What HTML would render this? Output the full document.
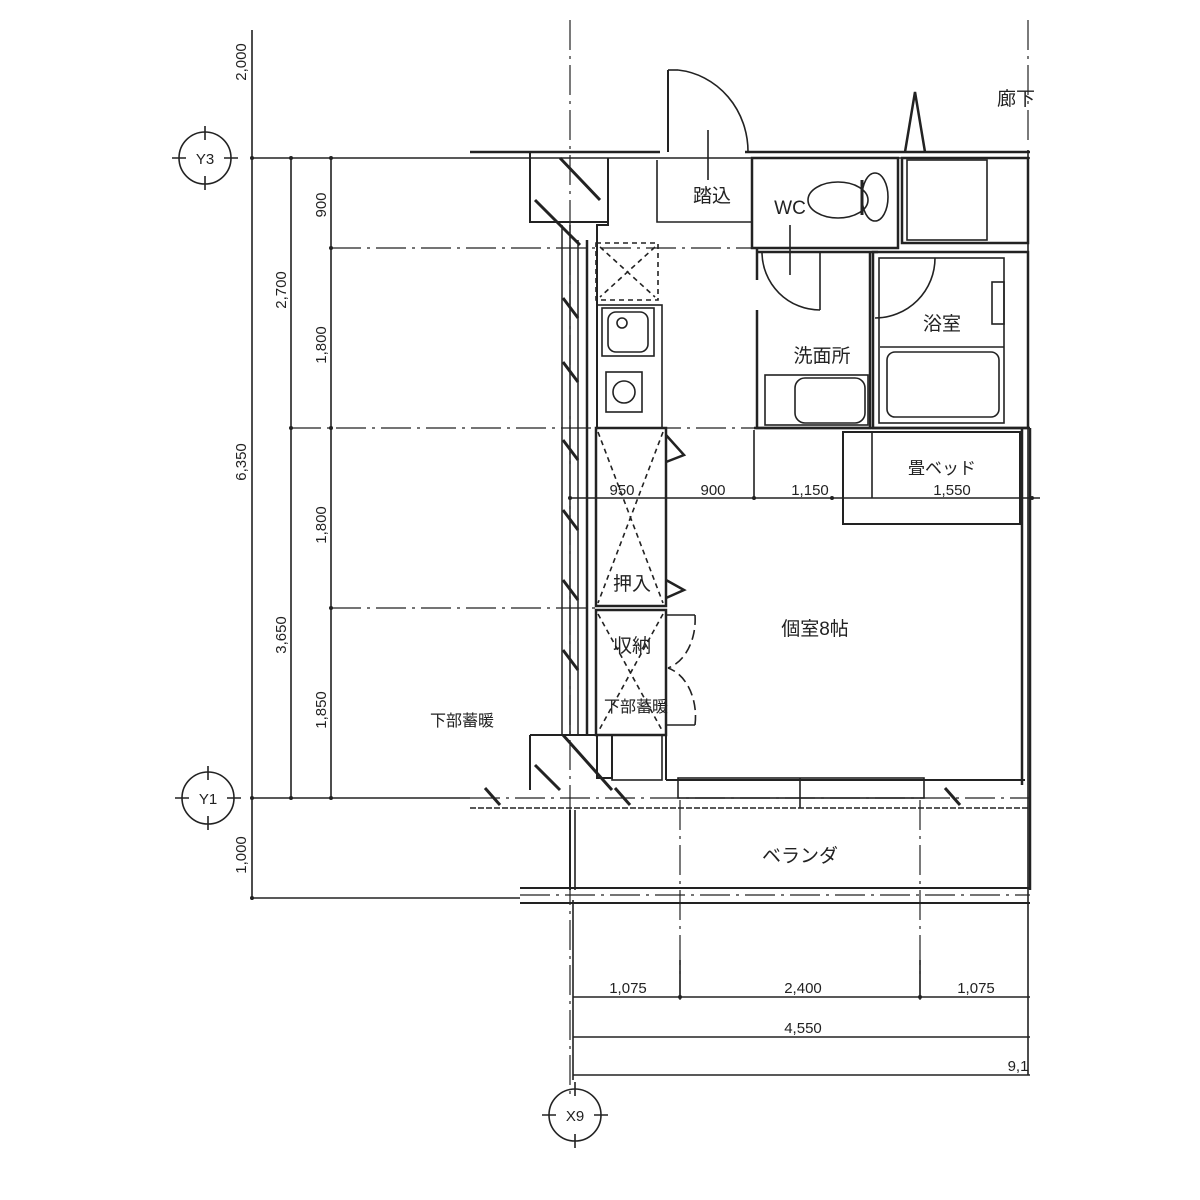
<!DOCTYPE html>
<html><head><meta charset="utf-8"><style>
html,body{margin:0;padding:0;background:#fff;}
svg{display:block;}
text{font-family:"Liberation Sans","Noto Sans CJK JP",sans-serif;fill:#222;}
.d{font-size:15px;}
.j{font-size:19px;}
</style></head><body>
<svg width="1200" height="1200" viewBox="0 0 1200 1200" xmlns="http://www.w3.org/2000/svg">
<g stroke="#222" fill="none" stroke-width="1.6">
<g stroke-dasharray="30,6,3,6" stroke-width="1.2">
<line x1="570" y1="20" x2="570" y2="1100"/>
<line x1="1028" y1="20" x2="1028" y2="140"/>
<line x1="331" y1="248" x2="760" y2="248"/>
<line x1="291" y1="428" x2="760" y2="428"/>
<line x1="331" y1="608" x2="600" y2="608"/>
<line x1="680" y1="800" x2="680" y2="1000"/>
<line x1="920" y1="800" x2="920" y2="1000"/>
<line x1="520" y1="895" x2="1030" y2="895"/>
<line x1="470" y1="798" x2="1030" y2="798"/>
</g>
<line x1="252" y1="30" x2="252" y2="900"/>
<line x1="291" y1="158" x2="291" y2="798"/>
<line x1="331" y1="158" x2="331" y2="798"/>
<line x1="252" y1="158" x2="470" y2="158"/>
<line x1="252" y1="798" x2="470" y2="798"/>
<line x1="252" y1="898" x2="520" y2="898"/>
<!-- grid circles -->
<g>
<circle cx="205" cy="158" r="26"/>
<path d="M172 158H186 M224 158H238 M205 126V140 M205 176V190"/>
<circle cx="208" cy="798" r="26"/>
<path d="M175 798H189 M227 798H241 M208 766V780 M208 816V830"/>
<circle cx="575" cy="1115" r="26"/>
<path d="M542 1115H556 M594 1115H608 M575 1082V1096 M575 1134V1148"/>
</g>
<line x1="573" y1="997" x2="1030" y2="997"/>
<line x1="573" y1="1037" x2="1030" y2="1037"/>
<line x1="573" y1="1075" x2="1030" y2="1075"/>
<line x1="573" y1="900" x2="573" y2="1080"/>
<line x1="680" y1="960" x2="680" y2="997"/>
<line x1="920" y1="960" x2="920" y2="997"/>
<line x1="1028" y1="150" x2="1028" y2="1075"/>
<line x1="570" y1="498" x2="1040" y2="498"/>
<line x1="754" y1="430" x2="754" y2="498"/>
<line x1="470" y1="152" x2="660" y2="152" stroke-width="2.5"/>
<line x1="745" y1="152" x2="1030" y2="152" stroke-width="2.5"/>
<line x1="470" y1="158" x2="1030" y2="158"/>
<line x1="668" y1="70" x2="668" y2="152" stroke-width="2"/>
<line x1="668" y1="70" x2="678" y2="70"/>
<path d="M678 70 A78 82 0 0 1 748 152"/>
<line x1="708" y1="130" x2="708" y2="180"/>
<path d="M905 152 L915 92 L925 152" stroke-width="2.5"/>
<path d="M657 160 V222 H752"/>
<rect x="752" y="158" width="146" height="90" stroke-width="2.5"/>
<ellipse cx="838" cy="200" rx="30" ry="18"/>
<ellipse cx="875" cy="197" rx="13" ry="24"/>
<line x1="862" y1="180" x2="862" y2="215" stroke-width="3"/>
<line x1="790" y1="225" x2="790" y2="275"/>
<rect x="902" y="158" width="126" height="85" stroke-width="2.5"/>
<rect x="907" y="160" width="80" height="80"/>
<path d="M530 152 V222 H608 V158" stroke-width="2"/>
<line x1="560" y1="158" x2="600" y2="200" stroke-width="3"/>
<line x1="535" y1="200" x2="580" y2="245" stroke-width="3"/>
<path d="M608 158 V225 H597 V428" stroke-width="2"/>
<line x1="562" y1="225" x2="562" y2="735" stroke-width="1.5"/>
<line x1="570" y1="225" x2="570" y2="735" stroke-width="1.5"/>
<line x1="578" y1="240" x2="578" y2="735" stroke-width="1.5"/>
<line x1="587" y1="240" x2="587" y2="735" stroke-width="2.5"/>
<g stroke-width="3">
<line x1="563" y1="298" x2="578" y2="318"/>
<line x1="563" y1="362" x2="578" y2="382"/>
<line x1="563" y1="440" x2="578" y2="460"/>
<line x1="563" y1="510" x2="578" y2="530"/>
<line x1="563" y1="580" x2="578" y2="600"/>
<line x1="563" y1="650" x2="578" y2="670"/>
</g>
<rect x="596" y="243" width="62" height="57" stroke-dasharray="5,4"/>
<line x1="600" y1="247" x2="655" y2="297" stroke-dasharray="5,4"/>
<line x1="655" y1="247" x2="600" y2="297" stroke-dasharray="5,4"/>
<rect x="597" y="305" width="65" height="123"/>
<rect x="602" y="308" width="52" height="48"/>
<rect x="608" y="312" width="40" height="40" rx="8"/>
<circle cx="622" cy="323" r="5"/>
<rect x="606" y="372" width="36" height="40"/>
<circle cx="624" cy="392" r="11"/>
<rect x="596" y="428" width="70" height="178" stroke-width="2.5"/>
<rect x="596" y="610" width="70" height="125" stroke-width="2.5"/>
<g stroke-dasharray="5,4">
<line x1="598" y1="432" x2="663" y2="603"/>
<line x1="663" y1="432" x2="598" y2="603"/>
<line x1="598" y1="614" x2="663" y2="732"/>
<line x1="663" y1="614" x2="598" y2="732"/>
</g>
<path d="M666 435 L684 455 L666 462" stroke-width="2.5"/>
<path d="M666 580 L684 590 L666 598" stroke-width="2.5"/>
<line x1="666" y1="615" x2="695" y2="615"/>
<path d="M695 615 A36 50 0 0 1 668 668" stroke-dasharray="10,5"/>
<line x1="666" y1="725" x2="695" y2="725"/>
<path d="M695 725 A36 50 0 0 0 668 668" stroke-dasharray="10,5"/>
<path d="M530 735 H597 V778 H612 V735 M612 735 H666 V780" stroke-width="2"/>
<rect x="612" y="735" width="50" height="45"/>
<line x1="530" y1="735" x2="530" y2="790" stroke-width="2"/>
<line x1="535" y1="765" x2="560" y2="790" stroke-width="3"/>
<line x1="563" y1="735" x2="612" y2="790" stroke-width="3"/>
<line x1="485" y1="788" x2="500" y2="805" stroke-width="3"/>
<line x1="615" y1="788" x2="630" y2="805" stroke-width="3"/>
<line x1="945" y1="788" x2="960" y2="805" stroke-width="3"/>
<path d="M757 248 V280 M757 310 V428 H870 V252" stroke-width="2.5"/>
<line x1="757" y1="252" x2="878" y2="252" stroke-width="2.5"/>
<line x1="820" y1="252" x2="820" y2="310"/>
<path d="M762 252 A58 58 0 0 0 820 310"/>
<rect x="765" y="375" width="103" height="50"/>
<rect x="795" y="378" width="70" height="45" rx="10"/>
<rect x="873" y="252" width="155" height="176" stroke-width="2.5"/>
<rect x="879" y="258" width="125" height="165"/>
<path d="M875 318 A60 60 0 0 0 935 258"/>
<rect x="992" y="282" width="12" height="42"/>
<line x1="880" y1="347" x2="1004" y2="347"/>
<rect x="887" y="352" width="112" height="65" rx="8"/>
<rect x="843" y="432" width="177" height="92" stroke-width="2"/>
<line x1="872" y1="432" x2="872" y2="498"/>
<line x1="1022" y1="428" x2="1022" y2="785" stroke-width="2.5"/>
<line x1="1030" y1="428" x2="1030" y2="890" stroke-width="2.5"/>
<line x1="754" y1="428" x2="1030" y2="428" stroke-width="2.5"/>
<line x1="666" y1="780" x2="1025" y2="780" stroke-width="2"/>
<rect x="678" y="778" width="246" height="20"/>
<line x1="800" y1="778" x2="800" y2="808"/>
<line x1="470" y1="808" x2="1030" y2="808" stroke-dasharray="6,2"/>
<line x1="570" y1="810" x2="570" y2="890" stroke-width="2"/>
<line x1="575" y1="810" x2="575" y2="890"/>
<line x1="520" y1="888" x2="1030" y2="888" stroke-width="2"/>
<line x1="520" y1="903" x2="1030" y2="903" stroke-width="2"/>
</g>
<g fill="#222">
<circle cx="570" cy="498" r="2"/><circle cx="754" cy="498" r="2"/><circle cx="832" cy="498" r="2"/><circle cx="1032" cy="498" r="2"/>
<circle cx="680" cy="997" r="2"/><circle cx="920" cy="997" r="2"/>
<circle cx="252" cy="158" r="2"/><circle cx="291" cy="158" r="2"/><circle cx="331" cy="158" r="2"/><circle cx="331" cy="248" r="2"/><circle cx="291" cy="428" r="2"/><circle cx="331" cy="428" r="2"/><circle cx="331" cy="608" r="2"/><circle cx="252" cy="798" r="2"/><circle cx="291" cy="798" r="2"/><circle cx="331" cy="798" r="2"/><circle cx="252" cy="898" r="2"/>
</g>
<text x="205" y="164" class="d" text-anchor="middle">Y3</text>
<text x="208" y="804" class="d" text-anchor="middle">Y1</text>
<text x="575" y="1121" class="d" text-anchor="middle">X9</text>
<g class="d" text-anchor="middle">
<text transform="translate(246,62) rotate(-90)">2,000</text>
<text transform="translate(326,205) rotate(-90)">900</text>
<text transform="translate(286,290) rotate(-90)">2,700</text>
<text transform="translate(326,345) rotate(-90)">1,800</text>
<text transform="translate(246,462) rotate(-90)">6,350</text>
<text transform="translate(326,525) rotate(-90)">1,800</text>
<text transform="translate(286,635) rotate(-90)">3,650</text>
<text transform="translate(326,710) rotate(-90)">1,850</text>
<text transform="translate(246,855) rotate(-90)">1,000</text>
<text x="622" y="495">950</text>
<text x="713" y="495">900</text>
<text x="810" y="495">1,150</text>
<text x="952" y="495">1,550</text>
<text x="628" y="993">1,075</text>
<text x="803" y="993">2,400</text>
<text x="976" y="993">1,075</text>
<text x="803" y="1033">4,550</text>
<text x="1018" y="1071">9,1</text>
</g>
<g class="j" text-anchor="middle">
<text x="1016" y="105">廊下</text>
<text x="712" y="202">踏込</text>
<text x="790" y="214">WC</text>
<text x="822" y="362">洗面所</text>
<text x="942" y="330">浴室</text>
<text x="942" y="474" style="font-size:17px">畳ベッド</text>
<text x="815" y="635">個室8帖</text>
<text x="632" y="590">押入</text>
<text x="632" y="652">収納</text>
<text x="636" y="712" style="font-size:16px">下部蓄暖</text>
<text x="462" y="726" style="font-size:16px">下部蓄暖</text>
<text x="800" y="862">ベランダ</text>
</g>
</svg>
</body></html>
